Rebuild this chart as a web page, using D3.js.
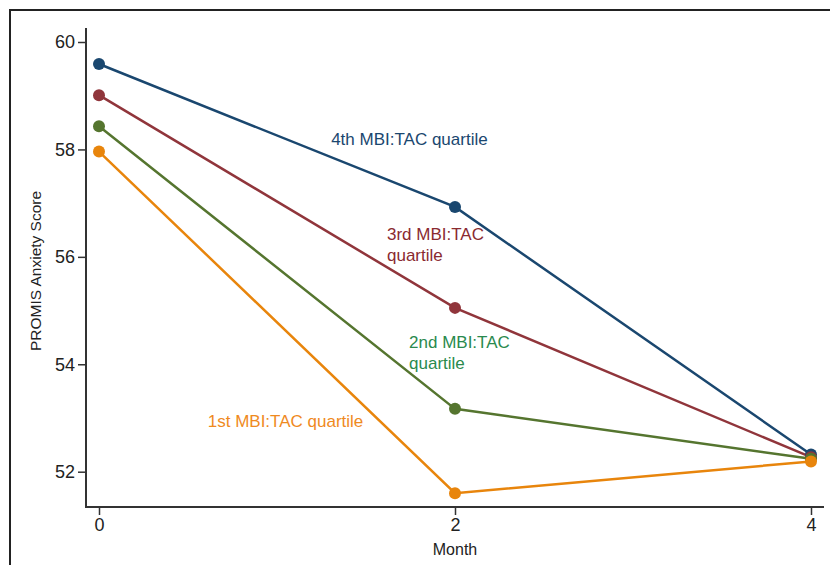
<!DOCTYPE html>
<html>
<head>
<meta charset="utf-8">
<script src="https://cdn.jsdelivr.net/npm/d3@7"></script>
<style>
  body { margin: 0; background: #fff; }
  text { font-family: Arial, "Liberation Sans", sans-serif; }
</style>
</head>
<body>
<div id="chart"></div>
<script>
// data
var months = [0, 2, 4];
var yTicks = [52, 54, 56, 58, 60];
var q1 = [57.96, 51.60, 52.19];
var q2 = [58.43, 53.17, 52.24];
var q3 = [59.01, 55.05, 52.27];
var q4 = [59.59, 56.93, 52.32];
var seriesNames = ["1st MBI:TAC quartile", "2nd MBI:TAC quartile", "3rd MBI:TAC quartile", "4th MBI:TAC quartile"];

var width = 830;
var height = 565;

var series = [
  { name: seriesNames[0], values: q1, color: "#e8850c", label: "#ef8a1e", lines: ["1st MBI:TAC quartile"], lx: 1.048, ly: 52.83, anchor: "middle" },
  { name: seriesNames[1], values: q2, color: "#55752f", label: "#2a8a4e", lines: ["2nd MBI:TAC", "quartile"], lx: 1.742, ly: 54.30, anchor: "start" },
  { name: seriesNames[2], values: q3, color: "#90353b", label: "#8a2a30", lines: ["3rd MBI:TAC", "quartile"], lx: 1.618, ly: 56.31, anchor: "start" },
  { name: seriesNames[3], values: q4, color: "#1a476f", label: "#1a476f", lines: ["4th MBI:TAC quartile"], lx: 1.744, ly: 58.08, anchor: "middle" }
];

var svg = d3.select("#chart")
  .append("svg")
  .attr("width", width)
  .attr("height", height);

// outer frame
svg.append("rect")
  .attr("x", 10)
  .attr("y", 10)
  .attr("width", width + 10)
  .attr("height", height + 10)
  .attr("fill", "none")
  .attr("stroke", "#222")
  .attr("stroke-width", 2);

var x = d3.scaleLinear().domain([0, 4]).range([99, 811]);
var y = d3.scaleLinear().domain([52, 60]).range([471.7, 42]);

// y axis
var yAxis = svg.append("g")
  .attr("transform", "translate(86,0)")
  .call(d3.axisLeft(y).tickValues(yTicks).tickFormat(d3.format("d")).tickSize(8).tickPadding(3).tickSizeOuter(0));
yAxis.select(".domain").remove();
yAxis.append("line")
  .attr("x1", 0).attr("x2", 0)
  .attr("y1", 28).attr("y2", 507.5)
  .attr("stroke", "#333").attr("stroke-width", 2);

// x axis
var xAxis = svg.append("g")
  .attr("transform", "translate(0,507)")
  .call(d3.axisBottom(x).tickValues(months).tickFormat(d3.format("d")).tickSize(8).tickPadding(3).tickSizeOuter(0));
xAxis.select(".domain").remove();
xAxis.append("line")
  .attr("x1", 85).attr("x2", 824)
  .attr("y1", 0).attr("y2", 0)
  .attr("stroke", "#333").attr("stroke-width", 2);

svg.selectAll(".tick line").attr("stroke", "#333").attr("stroke-width", 1.5);
svg.selectAll(".tick text")
  .attr("fill", "#222")
  .style("font-size", "18px");

// axis titles
svg.append("text")
  .attr("transform", "translate(41,271)rotate(-90)")
  .attr("text-anchor", "middle")
  .attr("fill", "#222")
  .style("font-size", "15.5px")
  .text("PROMIS Anxiety Score");

svg.append("text")
  .attr("x", x(2))
  .attr("y", 555)
  .attr("text-anchor", "middle")
  .attr("fill", "#222")
  .style("font-size", "16px")
  .text("Month");

var line = d3.line()
  .x(function(d, i) { return x(months[i]); })
  .y(function(d) { return y(d); });

series.forEach(function(s) {
  svg.append("path")
    .datum(s.values)
    .attr("d", line)
    .attr("fill", "none")
    .attr("stroke", s.color)
    .attr("stroke-width", 2.5);
});

series.slice().reverse().forEach(function(s) {
  svg.selectAll(null)
    .data(s.values)
    .enter()
    .append("circle")
    .attr("cx", function(d, i) { return x(months[i]); })
    .attr("cy", function(d) { return y(d); })
    .attr("r", 6)
    .attr("fill", s.color);
});

// series labels
series.forEach(function(s) {
  var t = svg.append("text")
    .attr("x", x(s.lx))
    .attr("y", y(s.ly))
    .attr("text-anchor", s.anchor)
    .attr("fill", s.label)
    .style("font-size", "17px");
  s.lines.forEach(function(l, i) {
    t.append("tspan")
      .attr("x", x(s.lx))
      .attr("dy", i === 0 ? 0 : 21)
      .text(l);
  });
});
</script>
</body>
</html>
